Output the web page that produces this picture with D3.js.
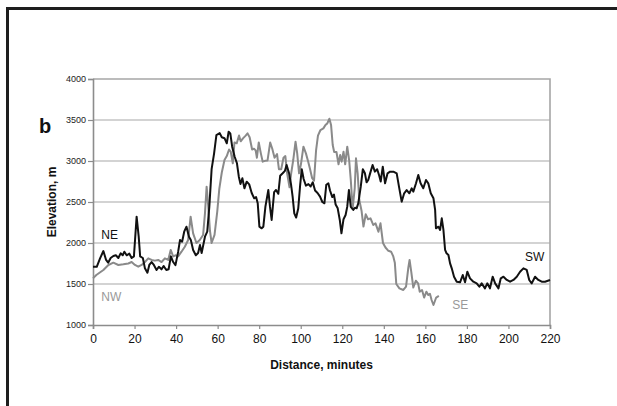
<!DOCTYPE html>
<html>
<head>
<meta charset="utf-8">
<script src="https://cdn.jsdelivr.net/npm/d3@7"></script>
<style>
  body { margin: 0; background: #fff; }
  text { font-family: "Liberation Sans", Arial, sans-serif; }
</style>
</head>
<body>
<svg id="chart" width="617" height="406"></svg>
<script>
// route profiles: [minutes, elevation m]
var neRoute = [
  [0,1710],[1.8,1710],[3.4,1813],[5,1902],[6.3,1793],[7.3,1760],[8.5,1817],[9.8,1841],[11,1850],
  [12.2,1817],[13.3,1874],[14.3,1850],[15.1,1894],[16.2,1850],[17.5,1870],[18.6,1817],[19.7,1837],
  [21,2321],[22,2077],[22.7,1837],[24,1817],[25,1691],[26.2,1638],[27.1,1732],[28.2,1768],[29.3,1732],
  [30.6,1671],[31.7,1711],[33,1679],[34,1720],[35.3,1671],[36.4,1680],[37.5,1837],[38.6,1768],
  [39.7,1730],[41,1894],[41.9,2037],[42.9,2016],[43.9,2138],[45,2199],[46.2,2077],[47.1,2037],
  [48.2,1915],[49.5,1850],[50.6,1878],[51.5,1976],[52.3,1878],[53.9,2077],[55,2138],[56,2443],
  [57.1,2900],[58.3,3093],[59.4,3317],[61,3340],[62,3290],[63.3,3278],[64.4,3216],[65.3,3357],
  [66.1,3337],[67,3175],[68.2,3052],[69.3,2972],[70.2,2809],[71,2720],[71.9,2789],[72.9,2667],
  [74,2748],[75.2,2715],[76.4,2610],[77.6,2545],[78.5,2560],[79.3,2484],[80.1,2199],[81.2,2179],
  [82,2199],[83,2443],[84.4,2646],[85.2,2443],[86,2281],[87.2,2620],[88.1,2646],[89.2,2600],
  [90.1,2820],[91.3,2850],[92.4,2880],[93.2,2951],[94.4,2850],[95.3,2720],[96.1,2565],[96.9,2362],
  [97.8,2310],[98.8,2420],[99.7,2700],[100.5,2900],[101.4,2780],[102.5,2700],[103.7,2718],
  [104.8,2690],[105.8,2740],[106.9,2640],[108.1,2610],[109.3,2565],[110.4,2500],[111.4,2484],
  [112.3,2710],[113.3,2728],[114.1,2640],[115.2,2560],[116,2590],[116.8,2470],[117.8,2423],
  [118.8,2281],[119.6,2118],[120.6,2290],[121.6,2342],[122.4,2443],[123.2,2646],[124.1,2440],
  [125.3,2403],[126.1,2430],[126.9,2423],[127.7,2484],[128.9,2687],[129.9,2900],[130.9,2850],
  [131.7,2740],[132.5,2768],[133.3,2840],[134.6,2951],[135.7,2870],[136.8,2900],[137.8,2820],
  [138.5,2750],[139.5,2931],[140.6,2728],[141.8,2850],[143,2870],[144.6,2870],[146.2,2850],
  [147.3,2687],[148.6,2504],[149.8,2606],[151,2646],[152.3,2606],[153.4,2667],[154.2,2626],
  [155.5,2728],[156.6,2829],[157.7,2728],[159,2667],[160.3,2768],[161.4,2728],[162.6,2606],
  [163.9,2545],[164.7,2403],[165.1,2179],[166.3,2199],[167.1,2159],[167.9,2301],[168.7,2159],
  [169.5,1915],[170.2,1874],[171.1,1854],[171.9,1752],[172.7,1691],[173.8,1589],[175.1,1528],
  [176.7,1521],[178,1610],[179.1,1521],[180.2,1650],[181.5,1569],[183.1,1528],[184.7,1508],
  [186,1467],[187.1,1508],[188.7,1447],[189.8,1508],[191.1,1447],[192.4,1589],[193.6,1508],
  [195.2,1447],[196.3,1569],[197.6,1589],[199.2,1549],[200.8,1528],[202.4,1549],[204,1589],
  [205.6,1650],[207.2,1691],[208.8,1671],[210,1549],[211.2,1508],[212.8,1589],[214.4,1549],
  [216,1528],[217.6,1528],[220,1549]
];

var nwRoute = [
  [0,1569],[1.6,1610],[3.3,1640],[5,1671],[7.4,1732],[9.8,1760],[12.2,1732],[14.6,1740],[17,1750],
  [18.6,1768],[20.2,1732],[21.8,1711],[23.4,1732],[25,1768],[26.6,1813],[28.2,1793],[29.8,1785],
  [31.4,1793],[33,1768],[34.6,1813],[36.2,1793],[37.4,1915],[38.6,1837],[39.9,1850],[41,1837],
  [42.6,1894],[44.2,1955],[45.8,2037],[47,2321],[48.2,2118],[49.8,2000],[51.4,2037],[53,2097],
  [53.9,2362],[54.7,2687],[55.5,2443],[56.3,2150],[57.1,2000],[58.5,2100],[59.8,2380],[60.8,2660],
  [62,2860],[63.3,3012],[64.4,3060],[65.5,3140],[66.3,3114],[67.3,2972],[68.1,3226],[69.2,3216],
  [70.3,3310],[71.1,3240],[72.2,3276],[73.5,3310],[74.4,3337],[75.4,3290],[76.6,3140],[77.5,3150],
  [78.3,3130],[78.9,3040],[79.8,3226],[80.8,3093],[81.7,2992],[82.8,3002],[84,3005],[85.3,3226],
  [86.3,3150],[87.4,3040],[88.6,3085],[89.5,2900],[90.6,2900],[91.7,3040],[92.6,3060],[93.4,2860],
  [94.6,2680],[95.4,2850],[96.4,3012],[97.5,3236],[98.3,3093],[99.2,2850],[100.1,2960],[101.3,3175],
  [102.5,3093],[103.6,2990],[104.5,2900],[105.5,2790],[106.4,2760],[107.4,3134],[108.3,3310],
  [109.5,3378],[110.9,3398],[111.9,3440],[112.8,3459],[113.8,3515],[114.6,3440],[115.4,3195],
  [116.1,3110],[117.2,3110],[118.2,2960],[119,3073],[119.7,2992],[120.6,3114],[121.4,2960],
  [122.4,3175],[123.3,3012],[124.1,2768],[125,2420],[126,2670],[126.6,3033],[127.4,2850],
  [128.2,2524],[129.3,2390],[130.2,2200],[131.3,2350],[132.4,2290],[133.6,2301],[134.9,2220],
  [136,2240],[137.4,2138],[138.4,2240],[139.6,2000],[140.8,1945],[142.2,1905],[143.5,1894],
  [144.5,1840],[145.3,1760],[146,1500],[147.5,1447],[149.4,1427],[150.7,1467],[151.8,1700],
  [152.4,1793],[153.2,1650],[154.2,1457],[155.4,1540],[156.5,1508],[157.3,1406],[158.4,1427],
  [159.4,1335],[160.5,1406],[161.4,1365],[162.2,1380],[163,1305],[163.9,1244],[165.2,1335],
  [166.5,1355]
];

var xTicks = [0, 20, 40, 60, 80, 100, 120, 140, 160, 180, 200, 220];
var yTicks = [1000, 1500, 2000, 2500, 3000, 3500, 4000];

var margin = {top: 79, right: 67, bottom: 81, left: 93};
var width = 617 - margin.left - margin.right,
    height = 406 - margin.top - margin.bottom;

var svg = d3.select("#chart");

// outer frame (top and left edges only)
svg.append("path")
  .attr("d", "M7.5,406V8.5H617")
  .attr("fill", "none")
  .attr("stroke", "#1e1e1e")
  .attr("stroke-width", 3);

var g = svg.append("g").attr("transform", "translate(" + margin.left + "," + margin.top + ")");

var x = d3.scaleLinear().domain([0, 220]).range([0, width]);
var y = d3.scaleLinear().domain([1000, 4000]).range([height, 0]);

// gridlines
g.selectAll(".grid")
  .data(yTicks.slice(1, -1))
  .enter().append("line")
    .attr("class", "grid")
    .attr("x1", 0).attr("x2", width)
    .attr("y1", function(d) { return y(d); })
    .attr("y2", function(d) { return y(d); })
    .attr("stroke", "#c4c4c4")
    .attr("stroke-width", 1.6);

// plot box top + right
g.append("path")
  .attr("d", "M0," + y(4000) + "H" + x(220) + "V" + y(1000))
  .attr("fill", "none")
  .attr("stroke", "#a6a6a6")
  .attr("stroke-width", 1.6);

var xAxis = g.append("g")
  .attr("transform", "translate(0," + height + ")")
  .call(d3.axisBottom(x).tickValues(xTicks).tickSize(4).tickPadding(5));
xAxis.selectAll("text").attr("font-size", "12px").attr("fill", "#111").attr("font-family", null);

var yAxis = g.append("g")
  .call(d3.axisLeft(y).tickValues(yTicks).tickSize(5).tickPadding(2).tickFormat(d3.format("d")));
yAxis.selectAll("text").attr("font-size", "9px").attr("fill", "#222").attr("font-family", null);

g.selectAll(".domain").attr("stroke", "#8c8c8c").attr("stroke-width", 1.6);
g.selectAll(".tick line").attr("stroke", "#8c8c8c").attr("stroke-width", 1.2);

var line = d3.line()
  .x(function(d) { return x(d[0]); })
  .y(function(d) { return y(d[1]); });

g.append("path")
  .datum(nwRoute)
  .attr("d", line)
  .attr("fill", "none")
  .attr("stroke", "#8a8a8a")
  .attr("stroke-width", 2)
  .attr("stroke-linejoin", "round");

g.append("path")
  .datum(neRoute)
  .attr("d", line)
  .attr("fill", "none")
  .attr("stroke", "#111")
  .attr("stroke-width", 2)
  .attr("stroke-linejoin", "round");

// route labels
var labels = [
  {text: "NE", at: [4, 2050], color: "#111"},
  {text: "NW", at: [4, 1290], color: "#999"},
  {text: "SE", at: [173, 1190], color: "#999"},
  {text: "SW", at: [208, 1775], color: "#111"}
];
g.selectAll(".route-label")
  .data(labels)
  .enter().append("text")
    .attr("class", "route-label")
    .attr("x", function(d) { return x(d.at[0]); })
    .attr("y", function(d) { return y(d.at[1]); })
    .attr("font-size", "12px")
    .attr("fill", function(d) { return d.color; })
    .text(function(d) { return d.text; });

// axis titles
g.append("text")
  .attr("x", width / 2)
  .attr("y", height + 44)
  .attr("text-anchor", "middle")
  .attr("font-size", "12px")
  .attr("font-weight", "bold")
  .attr("fill", "#111")
  .text("Distance, minutes");

g.append("text")
  .attr("transform", "translate(-37," + (height / 2) + ") rotate(-90)")
  .attr("text-anchor", "middle")
  .attr("font-size", "12px")
  .attr("font-weight", "bold")
  .attr("fill", "#111")
  .text("Elevation, m");

svg.append("text")
  .attr("x", 39)
  .attr("y", 133)
  .attr("font-size", "20px")
  .attr("font-weight", "bold")
  .attr("fill", "#111")
  .text("b");
</script>
</body>
</html>
